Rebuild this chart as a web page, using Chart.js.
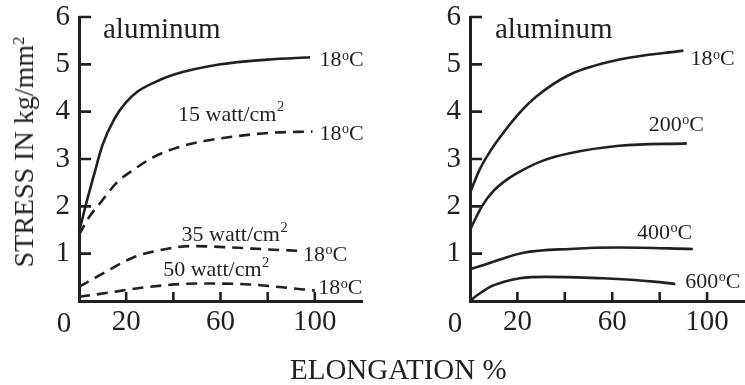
<!DOCTYPE html>
<html>
<head>
<meta charset="utf-8">
<script src="https://cdn.jsdelivr.net/npm/chart.js@4.4.1/dist/chart.umd.min.js"></script>
<style>
  html, body { margin: 0; padding: 0; background: #fff; }
  #wrap { position: relative; width: 745px; height: 385px; overflow: hidden;
          font-family: "Liberation Serif", "Times New Roman", serif; color: #231f20; }
  #wrap canvas { position: absolute; left: 0; top: 0; }
  .ytitle { position: absolute; left: 24px; top: 152px; white-space: nowrap;
            transform: translate(-50%, -50%) rotate(-90deg); font-size: 28px; line-height: 28px; }
  .xtitle { position: absolute; left: 290px; top: 355px; white-space: nowrap;
            font-size: 29px; line-height: 29px; }
  sup { font-size: 0.6em; vertical-align: 0.55em; line-height: 0; }
</style>
</head>
<body>
<div id="wrap">
  <canvas id="leftPanel" width="745" height="385"></canvas>
  <canvas id="rightPanel" width="745" height="385"></canvas>
  <div class="ytitle">STRESS IN kg/mm<sup>2</sup></div>
  <div class="xtitle">ELONGATION %</div>
</div>
<script>
// Axis marks
const elongationTickMarks  = [20, 40, 60, 80, 100];
const elongationTickLabels = [20, 60, 100];
const stressTicks          = [1, 2, 3, 4, 5, 6];

// Left panel: aluminum at 18 °C, plain and under irradiation (watt/cm²)
const plainElong   = [0, 3, 6, 10, 15, 20, 25, 32, 40, 60, 80, 98];
const plainStress  = [1.45, 2.05, 2.6, 3.3, 3.85, 4.2, 4.43, 4.62, 4.78, 5.0, 5.1, 5.15];
const watt15Elong  = [0, 4, 9, 16, 23, 32, 41, 53, 65, 80, 99];
const watt15Stress = [1.4, 1.75, 2.07, 2.5, 2.77, 3.05, 3.23, 3.38, 3.47, 3.55, 3.58];
const watt35Elong  = [0, 9, 23, 37, 48, 65, 80, 93];
const watt35Stress = [0.3, 0.55, 0.92, 1.1, 1.16, 1.13, 1.09, 1.06];
const watt50Elong  = [0, 9, 30, 51, 72, 86, 100];
const watt50Stress = [0.09, 0.15, 0.3, 0.37, 0.35, 0.29, 0.22];

// Right panel: aluminum at rising test temperatures
const t18Elong   = [0, 4, 9, 14, 21, 28, 42, 63, 90];
const t18Stress  = [2.28, 2.77, 3.2, 3.55, 3.98, 4.32, 4.78, 5.1, 5.29];
const t200Elong  = [0, 5, 10, 16, 22, 30, 42, 63, 91.5];
const t200Stress = [1.5, 2.0, 2.33, 2.58, 2.76, 2.95, 3.12, 3.28, 3.33];
const t400Elong  = [0, 7, 14, 22.5, 42, 63, 94];
const t400Stress = [0.67, 0.78, 0.9, 1.02, 1.1, 1.13, 1.1];
const t600Elong  = [0, 3, 8.5, 14, 21, 32, 45, 56, 77.5, 86.6];
const t600Stress = [0, 0.12, 0.3, 0.4, 0.48, 0.51, 0.5, 0.48, 0.41, 0.36];

const ink = '#231f20';
const serif = '"Liberation Serif", "Times New Roman", serif';

function points(xs, ys) {
  return xs.map((x, i) => ({ x, y: ys[i] }));
}

function curve(xs, ys, dashed) {
  return {
    data: points(xs, ys),
    borderColor: ink,
    borderWidth: 2.6,
    borderDash: dashed ? [11, 7] : [],
    pointRadius: 0,
    fill: false,
    cubicInterpolationMode: 'monotone',
    clip: false
  };
}

// Text with raised pieces, e.g. ['18', {sup: 'o', rise: 0.3}, 'C']
function richText(ctx, parts, x, baseline, size) {
  let cx = x;
  ctx.textAlign = 'left';
  ctx.textBaseline = 'alphabetic';
  for (const p of parts) {
    if (typeof p === 'string') {
      ctx.font = size + 'px ' + serif;
      ctx.fillText(p, cx, baseline);
      cx += ctx.measureText(p).width;
    } else {
      const s = size * p.scale;
      ctx.font = s + 'px ' + serif;
      ctx.fillText(p.sup, cx + 0.5, baseline - size * p.rise);
      cx += ctx.measureText(p.sup).width + 0.5;
    }
  }
}

// Inward tick marks, origin "0", panel name and curve captions
const panelMarks = {
  id: 'panelMarks',
  afterDraw(chart, args, opts) {
    const { ctx, chartArea: a, scales: { x, y } } = chart;
    ctx.save();
    ctx.strokeStyle = ink;
    ctx.lineWidth = 2.6;
    ctx.beginPath();
    for (const v of stressTicks) {
      const py = y.getPixelForValue(v);
      ctx.moveTo(a.left, py);
      ctx.lineTo(a.left + 12, py);
    }
    for (const v of elongationTickMarks) {
      const px = x.getPixelForValue(v);
      ctx.moveTo(px, a.bottom);
      ctx.lineTo(px, a.bottom - 9);
    }
    ctx.stroke();

    ctx.fillStyle = ink;
    ctx.font = '29px ' + serif;
    ctx.textAlign = 'center';
    ctx.textBaseline = 'alphabetic';
    ctx.fillText('0', a.left - 15, a.bottom + 31);

    ctx.textAlign = 'left';
    ctx.fillText(opts.name, a.left + opts.nameOffset, a.top + 21);

    for (const l of opts.labels) {
      const px = x.getPixelForValue(l.x);
      const py = y.getPixelForValue(l.y) + 0.34 * 22;
      richText(ctx, l.parts, px, py, 22);
    }
    ctx.restore();
  }
};

const degO = { sup: 'o', scale: 0.64, rise: 0.3 };
const sq2 = { sup: '2', scale: 0.66, rise: 0.42 };
const deg = ['18', degO, 'C'];

function noPadding(s) {
  s.paddingTop = 0; s.paddingBottom = 0; s.paddingLeft = 0; s.paddingRight = 0;
}

function panel(id, datasets, xMax, left, right, name, nameOffset, labels) {
  return new Chart(document.getElementById(id), {
    type: 'line',
    data: { datasets },
    options: {
      responsive: false,
      animation: false,
      devicePixelRatio: 1,
      layout: { padding: { left: 0, right: 745 - right, top: 17, bottom: 0 } },
      plugins: {
        legend: { display: false },
        tooltip: { enabled: false },
        panelMarks: { name, nameOffset, labels }
      },
      scales: {
        x: {
          type: 'linear', min: 0, max: xMax,
          grid: { display: false, drawTicks: false },
          border: { display: true, color: ink, width: 3 },
          ticks: { font: { family: serif, size: 29, lineHeight: 1 }, color: ink, padding: 7,
                   maxRotation: 0, autoSkip: false },
          afterBuildTicks: s => { s.ticks = elongationTickLabels.map(v => ({ value: v })); },
          afterFit: s => { s.height = 84; noPadding(s); }
        },
        y: {
          type: 'linear', min: 0, max: 6,
          grid: { display: false, drawTicks: false },
          border: { display: true, color: ink, width: 3 },
          ticks: { font: { family: serif, size: 29, lineHeight: 1 }, color: ink, padding: 9 },
          afterBuildTicks: s => { s.ticks = stressTicks.map(v => ({ value: v })); },
          afterFit: s => { s.width = left; noPadding(s); }
        }
      }
    },
    plugins: [panelMarks]
  });
}

panel('leftPanel', [
  curve(plainElong, plainStress, false),
  curve(watt15Elong, watt15Stress, true),
  curve(watt35Elong, watt35Stress, true),
  curve(watt50Elong, watt50Stress, true)
], 120, 79, 362, 'aluminum', 24, [
  { parts: deg, x: 102, y: 5.12 },
  { parts: ['15 watt/cm', sq2], x: 42, y: 3.97 },
  { parts: deg, x: 102, y: 3.56 },
  { parts: ['35 watt/cm', sq2], x: 43.5, y: 1.43 },
  { parts: deg, x: 95, y: 1.01 },
  { parts: ['50 watt/cm', sq2], x: 35.7, y: 0.68 },
  { parts: deg, x: 101.4, y: 0.3 }
]);

panel('rightPanel', [
  curve(t18Elong, t18Stress, false),
  curve(t200Elong, t200Stress, false),
  curve(t400Elong, t400Stress, false),
  curve(t600Elong, t600Stress, false)
], 116, 470, 745, 'aluminum', 25, [
  { parts: deg, x: 93, y: 5.14 },
  { parts: ['200', degO, 'C'], x: 75.4, y: 3.76 },
  { parts: ['400', degO, 'C'], x: 70.4, y: 1.47 },
  { parts: ['600', degO, 'C'], x: 90.8, y: 0.44 }
]);
</script>
</body>
</html>
